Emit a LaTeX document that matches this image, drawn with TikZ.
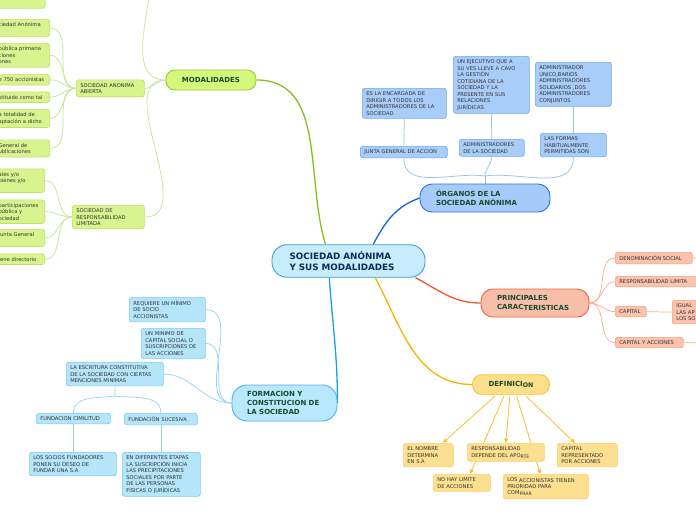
\documentclass[tikz,border=0pt]{standalone}
\usepackage{fontspec}
\setmainfont{DejaVu Sans}
\usetikzlibrary{arrows.meta}

\definecolor{centrefill}{HTML}{C8ECFC}
\definecolor{centreline}{HTML}{3A9FDB}
\definecolor{navytext}{HTML}{0D2B55}
\definecolor{greentext}{HTML}{174A2C}
\definecolor{modfill}{HTML}{D5F77C}
\definecolor{modline}{HTML}{9DCB2C}
\definecolor{modleaf}{HTML}{D9F48E}
\definecolor{modleafline}{HTML}{BEE36C}
\definecolor{modlink}{HTML}{C6E590}
\definecolor{modmain}{HTML}{8DBE1F}
\definecolor{orgfill}{HTML}{A6CBFA}
\definecolor{orgline}{HTML}{2F72DC}
\definecolor{orgleaf}{HTML}{A9CDF9}
\definecolor{orgleafline}{HTML}{6FA7EE}
\definecolor{orglink}{HTML}{93BFF2}
\definecolor{orgmain}{HTML}{1763D6}
\definecolor{carfill}{HTML}{F9BEA9}
\definecolor{carline}{HTML}{F0643A}
\definecolor{carleaf}{HTML}{FBC2AC}
\definecolor{carleafline}{HTML}{F5A283}
\definecolor{carlink}{HTML}{F8AD91}
\definecolor{carmain}{HTML}{F0552A}
\definecolor{deffill}{HTML}{FDDF8B}
\definecolor{defline}{HTML}{F9C235}
\definecolor{defleaf}{HTML}{FDE08F}
\definecolor{defleafline}{HTML}{FBD06E}
\definecolor{deflink}{HTML}{F8C032}
\definecolor{defmain}{HTML}{F8B300}
\definecolor{forfill}{HTML}{B9E8FC}
\definecolor{forline}{HTML}{45B3EC}
\definecolor{forleaf}{HTML}{B5E5FB}
\definecolor{forleafline}{HTML}{7FCBF1}
\definecolor{forlink}{HTML}{92D3F3}
\definecolor{formain}{HTML}{1DA1E4}

\pgfdeclarelayer{paper}
\pgfdeclarelayer{links}
\pgfsetlayers{paper,links,main}

\begin{document}
\begin{tikzpicture}[x=1pt, y=-1pt,
    leaf/.style={draw, rounded corners=2.5pt, line width=0.7pt, align=left, anchor=north west,
        inner xsep=4pt, inner ysep=3.3pt, font=\fontsize{5.2}{6.5}\selectfont, text=black!80},
    modleaf/.style={leaf, fill=modleaf, draw=modleafline},
    cutleaf/.style={modleaf, anchor=north east},
    orgleaf/.style={leaf, fill=orgleaf, draw=orgleafline},
    carleaf/.style={leaf, fill=carleaf, draw=carleafline},
    defleaf/.style={leaf, fill=defleaf, draw=defleafline},
    forleaf/.style={leaf, fill=forleaf, draw=forleafline},
    branch/.style={draw, line width=0.9pt, inner xsep=16pt, align=left,
        font=\fontsize{7}{8.7}\selectfont\bfseries, text=greentext},
    link/.style={line width=0.7pt},
    mainlink/.style={line width=1.3pt},
    tip/.style={draw=deflink, line width=0.8pt, shorten <=1.5pt, -{Triangle[length=4.5pt,width=4pt]}}]

\useasboundingbox (0,0) rectangle (696,520);
\begin{pgfonlayer}{paper}
    \fill[white] (0,0) rectangle (696,520);
\end{pgfonlayer}

% centre and main branches
\node[draw=centreline, fill=centrefill, line width=0.9pt, rounded corners=15pt, align=left,
    text width=118pt, inner xsep=17.5pt, minimum height=32.5pt, text=navytext,
    font=\fontsize{8.8}{11.5}\selectfont\bfseries] (sa) at (348.5,261) {SOCIEDAD ANÓNIMA\\Y SUS MODALIDADES};
\node[branch, fill=modfill, draw=modline, rounded corners=9pt, align=center, minimum width=82pt, minimum height=20pt] (modal) at (211,80) {MODALIDADES};
\node[branch, fill=orgfill, draw=orgline, rounded corners=12pt, text width=98pt, minimum height=28pt] (organos) at (485,198) {ÓRGANOS DE LA\\SOCIEDAD ANÓNIMA};
\node[branch, fill=carfill, draw=carline, rounded corners=12pt, text width=76pt, minimum height=28pt] (principales) at (535,303) {PRINCIPALES\\CARAC\raisebox{-1pt}{TERISTICAS}};
\node[branch, fill=deffill, draw=defline, rounded corners=9pt, align=center, minimum width=73pt, minimum height=19.5pt] (definicion) at (511,384.5) {DEFINICI\raisebox{-0.7pt}{\fontsize{6.3}{7}\selectfont ON}};
\node[branch, fill=forfill, draw=forline, rounded corners=15pt, text width=75pt, inner xsep=15pt, minimum height=36pt] (formacion) at (284.5,403) {FORMACION Y\\CONSTITUCION DE\\LA SOCIEDAD};

% modalidades
\node[modleaf, text width=60pt] (saa) at (76,79.5) {SOCIEDAD ANONIMA\\ABIERTA};
\node[modleaf, text width=64pt] (srl) at (72,205) {SOCIEDAD DE\\RESPONSABILIDAD\\LIMITADA};
\node[modleaf, anchor=south east, text width=42pt, minimum height=20pt] (saa0) at (45.5,8.5) {};
\node[cutleaf, text width=47pt] (saa1) at (50,19) {ciedad Anónima\\\mbox{}};
\node[cutleaf, text width=47pt] (saa2) at (50,43) {pública primaria\\ciones\\ones};
\node[cutleaf, text width=47pt] (saa3) at (50,74) {e 750 accionistas};
\node[cutleaf, text width=47pt] (saa4) at (50,91.5) {stituido como tal};
\node[cutleaf, text width=47pt] (saa5) at (50,109) {a totalidad de\\aptación a dicho};
\node[cutleaf, text width=47pt] (saa6) at (50,139.5) {General de\\ublicaciones};
\node[cutleaf, text width=42pt] (srl1) at (45,168.5) {ales y/o\\bienes y/o\\\mbox{}};
\node[cutleaf, text width=42pt] (srl2) at (45,199.5) {participaciones\\pública y\\ociedad};
\node[cutleaf, text width=42pt] (srl3) at (45,229) {Junta General\\\mbox{}};
\node[cutleaf, text width=42pt] (srl4) at (45,253.5) {iene directorio};
\coordinate (modup) at (130,-70);

% organos
\node[orgleaf, text width=76pt] (encargada) at (362,88) {ES LA ENCARGADA DE\\DIRIGIR A TODOS LOS\\ADMINISTRADORES DE LA\\SOCIEDAD};
\node[orgleaf, text width=68pt] (ejecutivo) at (453,56) {UN EJECUTIVO QUE A\\SU VES LLEVE A CAVO\\LA GESTIÓN\\COTIDIANA DE LA\\SOCIEDAD Y LA\\PRESENTE EN SUS\\RELACIONES\\JURÍDICAS};
\node[orgleaf, text width=68pt] (unico) at (535,62) {ADMINISTRADOR\\UNICO,BARIOS\\ADMINISTRADORES\\SOLIDARIOS ,DOS\\ADMINISTRADORES\\CONJUNTOS};
\node[orgleaf, text width=79pt] (junta) at (360,146) {JUNTA GENERAL DE ACCION};
\node[orgleaf, text width=57pt] (adminsoc) at (459,139) {ADMINISTRADORES\\DE LA SOCIEDAD};
\node[orgleaf, text width=58pt] (formas) at (540,133) {LAS FORMAS\\HABITUALMENTE\\PERMITIDAS SON};
\coordinate (orgjoin) at (485,176);

% caracteristicas
\node[carleaf, text width=69pt] (denom) at (615,252) {DENOMINACIÓN SOCIAL};
\node[carleaf, text width=82pt] (resplim) at (615,276) {RESPONSABILIDAD LIMITA};
\node[carleaf, text width=23pt] (capital) at (615,306) {CAPITAL};
\node[carleaf, text width=32pt] (igual) at (672,300) {IGUAL\\LAS AP\\LOS SO};
\node[carleaf, text width=60pt] (capacc) at (615,337) {CAPITAL Y ACCIONES};
\coordinate (denomnext) at (710,258);
\coordinate (capaccnext) at (710,343);

% definicion
\node[defleaf, text width=42pt] (nombre) at (403,443) {EL NOMBRE\\DETERMINA\\EN S.A};
\node[defleaf, text width=69pt] (resp) at (467,443) {RESPONSABILIDAD\\DEPENDE DEL APO\raisebox{-1pt}{\fontsize{4.6}{5}\selectfont RTE}};
\node[defleaf, text width=52pt] (caprep) at (557,443) {CAPITAL\\REPRESENTADO\\POR ACCIONES};
\node[defleaf, text width=49pt] (nohay) at (433,474) {NO HAY LIMITE\\DE ACCIONES};
\node[defleaf, text width=77pt] (losacc) at (503,474) {LOS \raisebox{-1pt}{ACCIONISTAS TIENEN}\\PRIORIDAD PARA\\COM\raisebox{-1pt}{\fontsize{4.6}{5}\selectfont PRAR}};

% formacion
\node[forleaf, text width=68pt] (requiere) at (129,297) {REQUIERE UN MÍNIMO\\DE SOCIO\\ACCIONISTAS};
\node[forleaf, text width=56pt] (minimo) at (141,328) {UN MINIMO DE\\CAPITAL SOCIAL O\\SUSCRIPCIONES DE\\LAS ACCIONES};
\node[forleaf, text width=89pt] (escritura) at (66,362) {LA ESCRITURA CONSTITUTIVA\\DE LA SOCIEDAD CON CIERTAS\\MENCIONES MINIMAS};
\node[forleaf, text width=66pt] (cimilitud) at (36,413) {FUNDACION CIMILITUD};
\node[forleaf, text width=65pt] (sucesiva) at (124,413) {FUNDACIÓN SUCESIVA};
\node[forleaf, text width=79pt] (socios) at (29,452) {LOS SOCIOS FUNDADORES\\PONEN SU DESEO DE\\FUNDAR UNA S.A};
\node[forleaf, text width=70pt] (etapas) at (122,452) {EN DIFERENTES ETAPAS\\LA SUSCRIPCIÓN INICIA\\LAS PRECIPITACIONES\\SOCIALES POR PARTE\\DE LAS PERSONAS\\FÍSICAS O JURÍDICAS};
\coordinate (escjoin) at (115,396);

\begin{pgfonlayer}{links}
    \draw[mainlink, modmain] (sa.144) to[out=107,in=0] (modal.east);
    \draw[mainlink, orgmain] (sa.34) to[out=62,in=200] (organos.west);
    \draw[mainlink, carmain] (sa.346) to[out=-28,in=180] (principales.west);
    \draw[mainlink, defmain] (sa.328) to[out=-62,in=180] (definicion.west);
    \draw[mainlink, formain] (sa.221) to[out=-86,in=90] (formacion.east);

    \draw[link, modlink] (modal.west) to[out=180,in=0] (saa.east);
    \draw[link, modlink] (modal.west) to[out=180,in=0] (srl.east);
    \draw[link, modlink] (modal.west) to[out=180,in=0] (modup);
    \foreach \c in {saa1,saa2,saa3,saa4,saa5,saa6}
        \draw[link, modlink] (saa.west) to[out=180,in=0] (\c.east);
    \foreach \c in {srl1,srl2,srl3,srl4}
        \draw[link, modlink] (srl.west) to[out=180,in=0] (\c.east);

    \draw[link, orglink] (organos.north) -- (orgjoin);
    \draw[link, orglink] (orgjoin) to[out=172,in=-90] (junta.south);
    \draw[link, orglink] (orgjoin) to[out=90,in=-90] (adminsoc.south);
    \draw[link, orglink] (orgjoin) to[out=8,in=-90] (formas.south);
    \draw[link, orglink] (encargada.south) -- (junta.north);
    \draw[link, orglink] (ejecutivo.south) -- (adminsoc.north);
    \draw[link, orglink] (unico.south) -- (formas.north);

    \foreach \c in {denom,resplim,capital,capacc}
        \draw[link, carlink] (principales.east) to[out=0,in=180] (\c.west);
    \draw[link, carlink] (denom.east) -- (denomnext);
    \draw[link, carlink] (capital.east) -- (igual.west);
    \draw[link, carlink] (capacc.east) -- (capaccnext);

    \draw[tip] (definicion.215) -- (nombre.40);
    \draw[tip] (definicion.238) -- (nohay.47);
    \draw[tip] (definicion.264) -- (resp.north);
    \draw[tip] (definicion.297) -- (losacc.114);
    \draw[tip] (definicion.323) -- (caprep.136);

    \foreach \c in {requiere,minimo,escritura}
        \draw[link, forlink] (formacion.west) to[out=180,in=0] (\c.east);
    \draw[link, forlink] (escritura.south) -- (escjoin);
    \draw[link, forlink] (escjoin) to[out=188,in=90] (cimilitud.north);
    \draw[link, forlink] (escjoin) to[out=-8,in=90] (sucesiva.north);
    \draw[link, forlink] (cimilitud.south) -- (cimilitud.south |- socios.north);
    \draw[link, forlink] (sucesiva.south) -- (sucesiva.south |- etapas.north);
\end{pgfonlayer}
\end{tikzpicture}
\end{document}
